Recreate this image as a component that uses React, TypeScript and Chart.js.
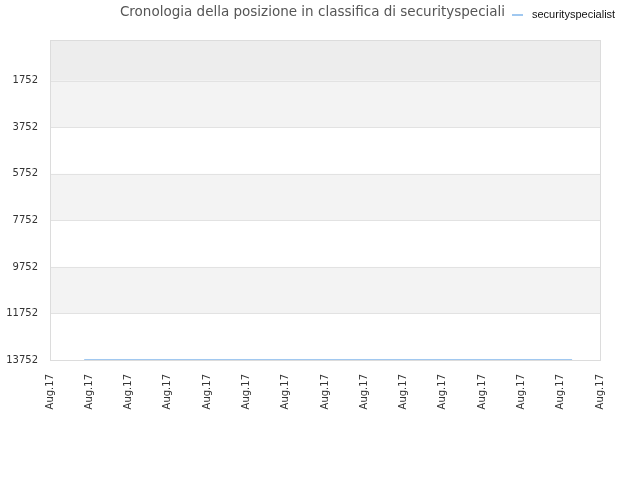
import React, { useRef, useEffect } from 'react';
import { Chart, registerables } from 'chart.js';
Chart.register(...registerables);

const titleText = 'Cronologia della posizione in classifica di securityspeciali';
const seriesName = 'securityspecialist';
const xLabels = [
  'Aug.17', 'Aug.17', 'Aug.17', 'Aug.17', 'Aug.17',
  'Aug.17', 'Aug.17', 'Aug.17', 'Aug.17', 'Aug.17',
  'Aug.17', 'Aug.17', 'Aug.17', 'Aug.17', 'Aug.17',
];
const yTicks = [1752, 3752, 5752, 7752, 9752, 11752, 13752];
const pointX = [0.87, 13.29];
const rankValues = [13730, 13730];

const FONT = "'DejaVu Sans', sans-serif";
const LINE_COLOR = '#a0c8f0';

// fasce alternate, titolo e legenda disegnati a mano sulla stessa riga
const bandsPlugin = {
  id: 'bands',
  beforeDatasetsDraw(chart: any) {
    const { ctx, chartArea } = chart;
    const y = chart.scales.y;
    const edges = [0, ...yTicks];
    const fills = ['#ededed', '#f3f3f3', '#ffffff', '#f3f3f3', '#ffffff', '#f3f3f3', '#ffffff'];
    ctx.save();
    for (let i = 0; i < edges.length - 1; i++) {
      const top = y.getPixelForValue(edges[i]);
      const bot = y.getPixelForValue(edges[i + 1]);
      ctx.fillStyle = fills[i];
      ctx.fillRect(chartArea.left, top, chartArea.right - chartArea.left, bot - top);
    }
    ctx.strokeStyle = '#e2e2e2';
    ctx.lineWidth = 1;
    for (const t of yTicks) {
      const py = Math.round(y.getPixelForValue(t)) + 0.5;
      ctx.beginPath();
      ctx.moveTo(chartArea.left, py);
      ctx.lineTo(chartArea.right, py);
      ctx.stroke();
    }
    ctx.strokeStyle = '#dcdcdc';
    ctx.strokeRect(
      Math.round(chartArea.left) + 0.5,
      Math.round(chartArea.top) + 0.5,
      Math.round(chartArea.right - chartArea.left),
      Math.round(chartArea.bottom - chartArea.top)
    );
    ctx.restore();
  },
  afterDraw(chart: any) {
    const { ctx } = chart;
    ctx.save();
    ctx.fillStyle = '#555';
    ctx.font = `13.5px ${FONT}`;
    ctx.textAlign = 'center';
    ctx.textBaseline = 'middle';
    ctx.fillText(titleText, 312.5, 12);

    ctx.strokeStyle = LINE_COLOR;
    ctx.lineWidth = 2;
    ctx.beginPath();
    ctx.moveTo(512, 15);
    ctx.lineTo(523, 15);
    ctx.stroke();
    ctx.fillStyle = '#111';
    ctx.font = "11px 'Liberation Sans', sans-serif";
    ctx.textAlign = 'left';
    ctx.fillText(seriesName, 532, 14.5);
    ctx.restore();
  },
};

const App: React.FC = () => {
  const canvasRef = useRef<HTMLCanvasElement>(null);
  const chartRef = useRef<Chart | null>(null);

  useEffect(() => {
    document.body.style.margin = '0';
    if (!canvasRef.current) return;
    if (chartRef.current) chartRef.current.destroy();
    const ctx = canvasRef.current.getContext('2d');
    if (!ctx) return;

    chartRef.current = new Chart(ctx, {
      type: 'line',
      data: {
        datasets: [
          {
            label: seriesName,
            data: pointX.map((x, i) => ({ x, y: rankValues[i] })),
            borderColor: LINE_COLOR,
            backgroundColor: LINE_COLOR,
            borderWidth: 1,
            pointRadius: 0,
            tension: 0,
          },
        ],
      },
      options: {
        responsive: false,
        animation: false,
        layout: { padding: { left: 0, right: 40, top: 40, bottom: 0 } },
        plugins: {
          legend: { display: false },
          tooltip: { enabled: false },
          title: { display: false },
        },
        scales: {
          x: {
            type: 'linear',
            min: 0,
            max: xLabels.length - 1,
            grid: { display: false },
            border: { display: false },
            afterBuildTicks: (axis: any) => {
              axis.ticks = xLabels.map((_, i) => ({ value: i }));
            },
            afterFit: (axis: any) => {
              axis.height = 120;
            },
            ticks: {
              minRotation: 90,
              maxRotation: 90,
              autoSkip: false,
              padding: 6,
              color: '#333',
              font: { family: FONT, size: 10 },
              callback: (v: any) => xLabels[Math.round(Number(v))],
            },
          },
          y: {
            type: 'linear',
            reverse: true,
            min: 0,
            max: 13752,
            grid: { display: false },
            border: { display: false },
            afterBuildTicks: (axis: any) => {
              axis.ticks = yTicks.map((v) => ({ value: v }));
            },
            afterFit: (axis: any) => {
              axis.width = 50;
            },
            ticks: {
              padding: 4,
              color: '#333',
              font: { family: FONT, size: 10 },
              callback: (v: any) => String(v),
            },
          },
        },
      },
      plugins: [bandsPlugin],
    });

    return () => {
      chartRef.current?.destroy();
    };
  }, []);

  return (
    <div style={{ width: 640, height: 480, background: '#fff' }}>
      <canvas ref={canvasRef} width={640} height={480}></canvas>
    </div>
  );
};

export default App;
